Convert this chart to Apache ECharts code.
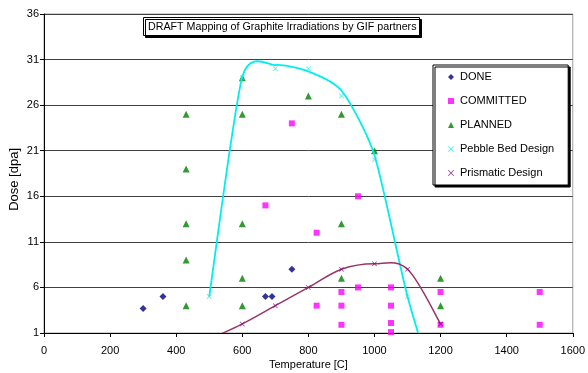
<!DOCTYPE html>
<html>
<head>
<meta charset="utf-8">
<script src="https://cdn.jsdelivr.net/npm/echarts@6/dist/echarts.min.js"></script>
<style>
  html, body { margin: 0; padding: 0; background: #fff; }
  #chart { width: 588px; height: 373px; }
</style>
</head>
<body>
<div id="chart"></div>
<script>
// 数据
const doneTemp = [300, 360, 670, 690, 750];
const doneDose = [3.7, 5, 5, 5, 8];

const committedTemp = [670, 750, 825, 825, 900, 900, 900, 950, 950, 1050, 1050, 1050, 1050, 1200, 1200, 1500, 1500];
const committedDose = [15, 24, 12, 4, 5.5, 4, 1.9, 16, 6, 6, 4, 2.1, 1.1, 5.5, 1.9, 5.5, 1.9];

const plannedTemp = [430, 430, 430, 430, 430, 600, 600, 600, 600, 600, 800, 900, 900, 900, 1000, 1200, 1200];
const plannedDose = [25, 19, 13, 9, 4, 29, 25, 13, 7, 4, 27, 25, 13, 7, 21, 7, 4];

const pebbleTemp = [500, 600, 700, 800, 900, 1000, 1100];
const pebbleDose = [5, 29, 30, 30, 27, 20, 5];

// 曲线（与标记点略有偏差，按图读取）
const pebbleCurveTemp = [500, 600, 700, 800, 900, 1000, 1100, 1200];
const pebbleCurveDose = [5, 29.1, 30.4, 29.7, 27.6, 20.5, 5, -7];

const prismaticTemp = [500, 600, 700, 800, 900, 1000, 1100, 1200];
const prismaticDose = [0.3, 2, 4, 6, 8, 8.6, 8, 2];

const xTicks = [0, 1600, 200];   // min, max, interval
const yTicks = [1, 36, 5];

const zip = (xs, ys) => xs.map((x, i) => [x, ys[i]]);

const FONT = 'Liberation Sans';
const crossPath = 'path://M0,1L1,0L5,4L9,0L10,1L6,5L10,9L9,10L5,6L1,10L0,9L4,5Z';

// Excel 风格的平滑曲线（Catmull-Rom），坐标通过 api.coord 换算
function smoothCurve(name, data, color, width, tension) {
  return {
    name: name,
    type: 'custom',
    clip: true,
    silent: true,
    z: 3,
    data: data,
    renderItem: function (params, api) {
      if (params.dataIndex !== 0) return;
      const pts = data.map(p => api.coord(p));
      const k = tension;
      let d = 'M' + pts[0][0] + ' ' + pts[0][1];
      for (let i = 0; i < pts.length - 1; i++) {
        const p0 = pts[i - 1] || pts[i];
        const p1 = pts[i];
        const p2 = pts[i + 1];
        const p3 = pts[i + 2] || pts[i + 1];
        const c1 = [p1[0] + (p2[0] - p0[0]) * k, p1[1] + (p2[1] - p0[1]) * k];
        const c2 = [p2[0] - (p3[0] - p1[0]) * k, p2[1] - (p3[1] - p1[1]) * k];
        d += ' C' + c1[0] + ' ' + c1[1] + ' ' + c2[0] + ' ' + c2[1] + ' ' + p2[0] + ' ' + p2[1];
      }
      return {
        type: 'path',
        shape: { pathData: d },
        style: { fill: 'none', stroke: color, lineWidth: width }
      };
    }
  };
}

const chart = echarts.init(document.getElementById('chart'), null, { renderer: 'canvas' });

const option = {
  animation: false,
  backgroundColor: '#fff',
  textStyle: { fontFamily: FONT, color: '#000' },
  title: {
    text: 'DRAFT Mapping of Graphite Irradiations by GIF partners',
    left: 143,
    top: 17,
    padding: [4, 3, 3, 5],
    backgroundColor: '#fff',
    borderColor: '#000',
    borderWidth: 1,
    shadowColor: '#000',
    shadowBlur: 0,
    shadowOffsetX: 2,
    shadowOffsetY: 2,
    textStyle: { fontFamily: FONT, fontSize: 10.7, fontWeight: 'normal', color: '#000', lineHeight: 12 }
  },
  legend: {
    orient: 'vertical',
    left: 433,
    top: 65,
    padding: [5, 14, 5, 15],
    itemWidth: 6,
    itemHeight: 6,
    itemGap: 10,
    selectedMode: false,
    backgroundColor: '#fff',
    borderColor: '#000',
    borderWidth: 1,
    shadowColor: '#000',
    shadowBlur: 0,
    shadowOffsetX: 2,
    shadowOffsetY: 2,
    textStyle: { fontFamily: FONT, fontSize: 11, color: '#000', lineHeight: 14, padding: [0, 0, 0, 1] },
    data: [
      { name: 'DONE', icon: 'diamond' },
      { name: 'COMMITTED', icon: 'rect' },
      { name: 'PLANNED', icon: 'triangle' },
      { name: 'Pebble Bed Design', icon: crossPath },
      { name: 'Prismatic Design', icon: crossPath }
    ]
  },
  grid: {
    left: 44,
    right: 12,
    top: 14,
    bottom: 40,
    show: true,
    borderColor: '#a0a0a0',
    borderWidth: 1
  },
  xAxis: {
    type: 'value',
    min: xTicks[0],
    max: xTicks[1],
    interval: xTicks[2],
    axisLine: { lineStyle: { color: '#000', width: 1 } },
    axisTick: { show: true, length: 4, lineStyle: { color: '#000' } },
    axisLabel: { fontFamily: FONT, fontSize: 11, color: '#000', margin: 12, formatter: v => String(v) },
    splitLine: { show: false }
  },
  yAxis: {
    type: 'value',
    min: yTicks[0],
    max: yTicks[1],
    interval: yTicks[2],
    axisLine: { show: true, lineStyle: { color: '#000', width: 1 } },
    axisTick: { show: true, length: 4, lineStyle: { color: '#000' } },
    axisLabel: { fontFamily: FONT, fontSize: 11, color: '#000', margin: 5 },
    splitLine: { show: true, lineStyle: { color: '#404040', width: 1 } }
  },
  graphic: [
    {
      type: 'text',
      left: 8,
      top: 148,
      rotation: Math.PI / 2,
      style: { text: 'Dose [dpa]', font: '13px "Liberation Sans"', fill: '#000' }
    },
    {
      type: 'text',
      left: 269,
      top: 359,
      style: { text: 'Temperature [C]', font: '11px "Liberation Sans"', fill: '#000' }
    }
  ],
  series: [
    {
      name: 'DONE',
      type: 'scatter',
      symbol: 'diamond',
      symbolSize: 7,
      itemStyle: { color: '#000080' },
      data: zip(doneTemp, doneDose)
    },
    {
      name: 'COMMITTED',
      type: 'scatter',
      symbol: 'rect',
      symbolSize: 6,
      itemStyle: { color: '#ff00ff' },
      data: zip(committedTemp, committedDose)
    },
    {
      name: 'PLANNED',
      type: 'scatter',
      symbol: 'triangle',
      symbolSize: 7,
      itemStyle: { color: '#008000' },
      data: zip(plannedTemp, plannedDose)
    },
    smoothCurve('pebbleCurve', zip(pebbleCurveTemp, pebbleCurveDose), '#00eeee', 1.8, 0.115),
    smoothCurve('prismaticCurve', zip(prismaticTemp, prismaticDose), '#993366', 1.5, 1 / 6),
    {
      name: 'Pebble Bed Design',
      type: 'scatter',
      symbol: crossPath,
      symbolSize: 5,
      z: 4,
      itemStyle: { color: '#00eeee' },
      data: zip(pebbleTemp, pebbleDose)
    },
    {
      name: 'Prismatic Design',
      type: 'scatter',
      symbol: crossPath,
      symbolSize: 5,
      z: 4,
      itemStyle: { color: '#800080' },
      data: zip(prismaticTemp, prismaticDose)
    }
  ]
};

chart.setOption(option);
</script>
</body>
</html>
